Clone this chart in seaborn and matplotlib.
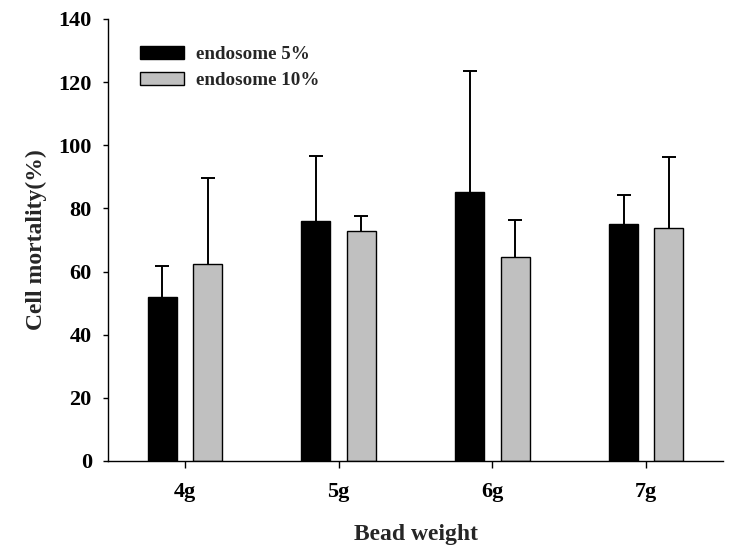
import numpy as np
import pandas as pd
import seaborn as sns
import matplotlib.pyplot as plt

# values
weights = ['4g', '5g', '6g', '7g']
groups = ['endosome 5%', 'endosome 10%']
mort_5 = [52.0, 76.0, 85.1, 75.1]
mort_10 = [62.3, 72.9, 64.5, 73.7]
err_5 = [9.7, 20.6, 38.3, 9.1]
err_10 = [27.2, 4.6, 11.7, 22.6]

df = pd.DataFrame({
    'weight': weights * 2,
    'group': [groups[0]] * 4 + [groups[1]] * 4,
    'mortality': mort_5 + mort_10,
})

sns.set_theme(style='white')
plt.rcParams['font.family'] = ['Liberation Serif', 'DejaVu Serif']
plt.rcParams['font.weight'] = 'bold'

fig = plt.figure(figsize=(7.32, 5.55), dpi=100)
ax = fig.add_axes([0.1475, 0.1694, 0.8404, 0.7964])

sns.barplot(data=df, x='weight', y='mortality', hue='group', order=weights,
            hue_order=groups, palette=['black', '#C0C0C0'], width=0.59,
            gap=0.36, edgecolor='black', linewidth=1.0, errorbar=None, ax=ax)

# upper-only error bars placed on the drawn bars
for cont, errs in zip(ax.containers, [err_5, err_10]):
    xs = [p.get_x() + p.get_width() / 2 for p in cont.patches]
    hs = [p.get_height() for p in cont.patches]
    eb = ax.errorbar(xs, hs, yerr=[np.zeros(len(errs)), errs], fmt='none',
                     ecolor='black', elinewidth=1.4, capsize=4.8, capthick=1.4)
    # hide the lower cap sitting on the bar top
    eb[1][0].set_visible(False)

ax.set_xlim(-0.5, 3.5)
ax.set_ylim(0, 140)
ax.set_yticks(range(0, 141, 20))
sns.despine(ax=ax)
for s in ['left', 'bottom']:
    ax.spines[s].set_color('black')
    ax.spines[s].set_linewidth(1.0)
ax.tick_params(axis='both', direction='out', width=1.0,
               colors='black', labelsize=16, bottom=True, left=True)
ax.tick_params(axis='x', length=5, pad=10)
ax.tick_params(axis='y', length=3.6, pad=8)
for lab in ax.get_xticklabels() + ax.get_yticklabels():
    lab.set_fontweight('bold')

ax.set_xlabel('Bead weight', fontsize=17, fontweight='bold', labelpad=16)
ax.set_ylabel('Cell mortality(%)', fontsize=17, fontweight='bold', labelpad=8)

ax.legend(loc='upper left', bbox_to_anchor=(0.052, 0.938), frameon=False,
          borderaxespad=0, borderpad=0, handlelength=2.3, handleheight=0.65,
          handletextpad=0.65, labelspacing=0.45,
          prop={'size': 13.7, 'weight': 'bold'})

fig.savefig('out.png', dpi=100)
